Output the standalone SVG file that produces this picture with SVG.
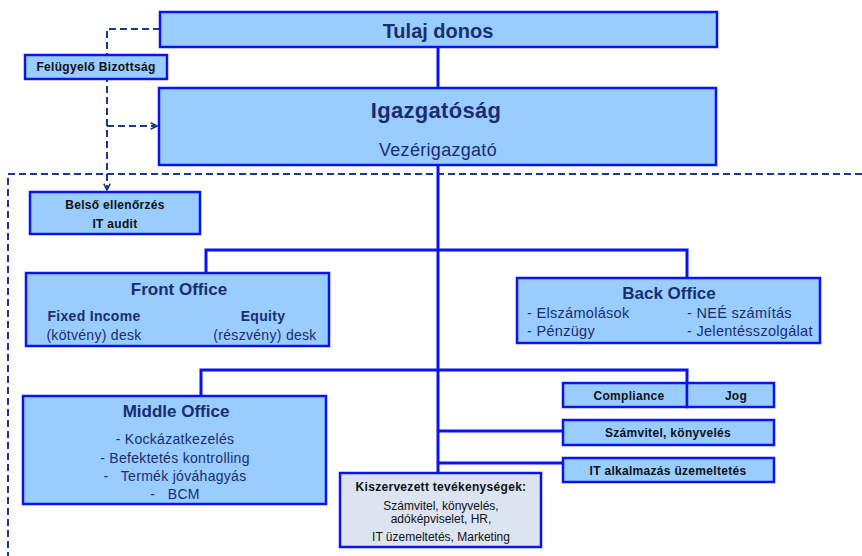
<svg xmlns="http://www.w3.org/2000/svg" width="862" height="556" viewBox="0 0 862 556">
<style>
.box{fill:#99ccff;stroke:#0a14f0;stroke-width:2.5}
.box2{fill:#dce4f2;stroke:#0a14f0;stroke-width:2.5}
.ln{fill:none;stroke:#0a14f0;stroke-width:3}
.dash{fill:none;stroke:#1c3a8c;stroke-width:2;stroke-dasharray:7,4}
text{font-family:"Liberation Sans",Arial,sans-serif;text-anchor:middle}
.big{font-size:20px;font-weight:bold;fill:#1a2d6e}
.big2{font-size:22px;font-weight:bold;fill:#1a2d6e;letter-spacing:0.3px}
.ttl{font-size:17px;font-weight:bold;fill:#1a2d6e}
.sub{font-size:18px;fill:#1a2d6e;letter-spacing:0.3px}
.sb{font-size:12px;font-weight:bold;fill:#111;letter-spacing:0.3px}
.nb{font-size:14px;font-weight:bold;fill:#1a2d6e;letter-spacing:0.3px}
.nr{font-size:14px;fill:#1a2d6e;letter-spacing:0.3px}
.nr2{font-size:14.5px;fill:#1a2d6e;letter-spacing:0.3px;text-anchor:start}
.sm{font-size:12px;fill:#111}
</style>
<defs>
<marker id="arr" viewBox="0 0 10 10" refX="9" refY="5" markerWidth="8" markerHeight="8" markerUnits="userSpaceOnUse" orient="auto">
<path d="M1,1 L9,5 L1,9" fill="none" stroke="#1c3a8c" stroke-width="2"/>
</marker>
</defs>
<g id="boundary">
<path class="dash" d="M862,174 H8 V556"/>
</g>
<g id="connectors">
<path class="dash" d="M160,29 H107 V190" marker-end="url(#arr)"/>
<path class="dash" d="M107,126 H157" marker-end="url(#arr)"/>
<path class="ln" d="M438,47 V88"/>
<path class="ln" d="M438,165 V473"/>
<path class="ln" d="M206,273 V250 H687 V278"/>
<path class="ln" d="M201,396 V370 H687 V383"/>
<path class="ln" d="M438,431 H563"/>
<path class="ln" d="M438,463 H563"/>
</g>
<g id="tulajdonos">
<rect class="box" x="160" y="12" width="557" height="35"/>
<text class="big" x="438" y="38">Tulaj donos</text>
</g>
<g id="felugyelo">
<rect class="box" x="25" y="55" width="142" height="24"/>
<text class="sb" x="96" y="71">Felügyelő Bizottság</text>
</g>
<g id="igazgatosag">
<rect class="box" x="159" y="88" width="557" height="77"/>
<text class="big2" x="436" y="118">Igazgatóság</text>
<text class="sub" x="438" y="156">Vezérigazgató</text>
</g>
<g id="belso">
<rect class="box" x="30" y="192" width="170" height="42"/>
<text class="sb" x="115" y="209">Belső ellenőrzés</text>
<text class="sb" x="115" y="228">IT audit</text>
</g>
<g id="front">
<rect class="box" x="26" y="273" width="303" height="73"/>
<text class="ttl" x="179" y="295">Front Office</text>
<text class="nb" x="94" y="321">Fixed Income</text>
<text class="nr" x="94" y="340">(kötvény) desk</text>
<text class="nb" x="263" y="321">Equity</text>
<text class="nr" x="265" y="340">(részvény) desk</text>
</g>
<g id="back">
<rect class="box" x="517" y="278" width="303" height="65"/>
<text class="ttl" x="669" y="299">Back Office</text>
<text class="nr2" x="527" y="318">- Elszámolások</text>
<text class="nr2" x="527" y="336">- Pénzügy</text>
<text class="nr2" x="687" y="318">- NEÉ számítás</text>
<text class="nr2" x="687" y="336">- Jelentésszolgálat</text>
</g>
<g id="middle">
<rect class="box" x="23" y="396" width="303" height="108"/>
<text class="ttl" x="176" y="417">Middle Office</text>
<text class="nr" x="175" y="444">- Kockázatkezelés</text>
<text class="nr" x="175" y="463">- Befektetés kontrolling</text>
<text class="nr" x="175" y="481" xml:space="preserve">-   Termék jóváhagyás</text>
<text class="nr" x="175" y="499" xml:space="preserve">-   BCM</text>
</g>
<g id="compliance">
<rect class="box" x="563" y="383" width="124" height="24"/>
<text class="sb" x="629" y="400">Compliance</text>
</g>
<g id="jog">
<rect class="box" x="687" y="383" width="87" height="24"/>
<text class="sb" x="736" y="400">Jog</text>
</g>
<g id="szamvitel">
<rect class="box" x="563" y="420" width="211" height="25"/>
<text class="sb" x="668" y="437">Számvitel, könyvelés</text>
</g>
<g id="italk">
<rect class="box" x="563" y="458" width="211" height="24"/>
<text class="sb" x="668" y="475">IT alkalmazás üzemeltetés</text>
</g>
<g id="kiszervezett">
<rect class="box2" x="340" y="473" width="201" height="74"/>
<text class="sb" x="441" y="491">Kiszervezett tevékenységek:</text>
<text class="sm" x="441" y="510">Számvitel, könyvelés,</text>
<text class="sm" x="441" y="523">adóképviselet, HR,</text>
<text class="sm" x="441" y="541">IT üzemeltetés, Marketing</text>
</g>
</svg>
